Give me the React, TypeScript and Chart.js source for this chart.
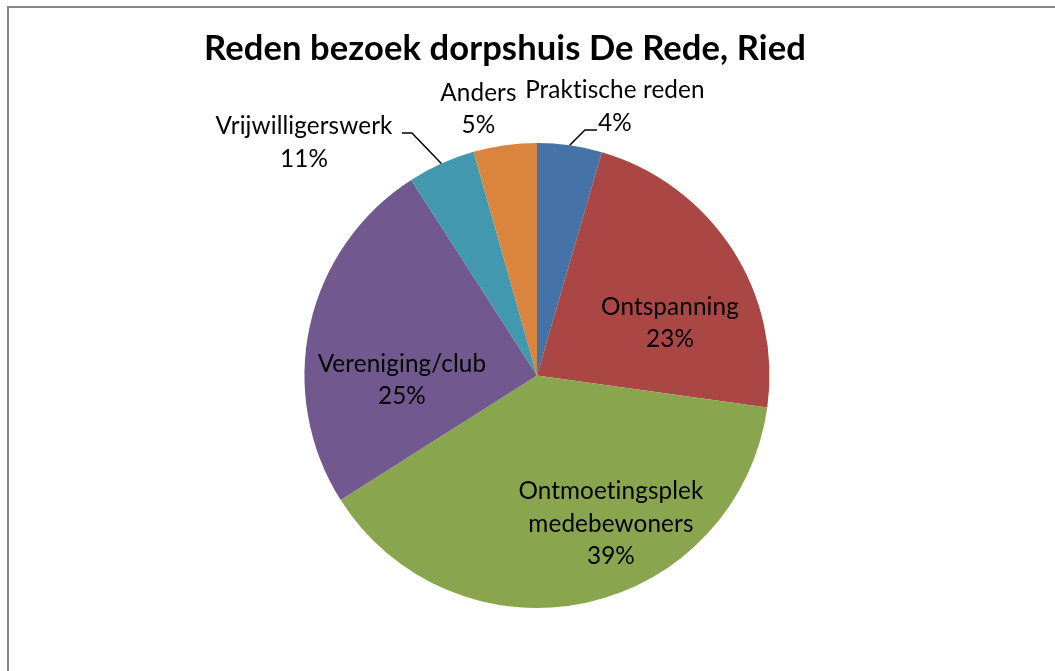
import { useEffect, useRef } from "react";
import { Chart, ArcElement, PieController } from "chart.js";

Chart.register(ArcElement, PieController);

// ---- data ----
const titleText = "Reden bezoek dorpshuis De Rede, Ried";
const categories = [
  "Praktische reden",
  "Ontspanning",
  "Ontmoetingsplek medebewoners",
  "Vereniging/club",
  "Vrijwilligerswerk",
  "Anders",
];
// slice sizes as drawn (share of the circle, %)
const values = [4.5, 22.7, 38.8, 24.9, 4.7, 4.4];
// percentage texts as printed on the chart
const percentLabels = ["4%", "23%", "39%", "25%", "11%", "5%"];
// label text lines (category name broken as in the chart)
const nameLines = [
  ["Praktische reden"],
  ["Ontspanning"],
  ["Ontmoetingsplek", "medebewoners"],
  ["Vereniging/club"],
  ["Vrijwilligerswerk"],
  ["Anders"],
];
const sliceColors = ["#4572A7", "#AA4643", "#89A54E", "#71588F", "#4198AF", "#DB843D"];

// ---- layout (label block centres relative to pie centre, in radius units) ----
const labelOffsets: [number, number][] = [
  [0.335, -1.157],
  [0.572, -0.226],
  [0.318, 0.639],
  [-0.581, 0.019],
  [-1.002, -1.002],
  [-0.252, -1.146],
];
// leader lines: slice index -> elbow and end (radius units)
const leaders: { index: number; elbow: [number, number]; end: [number, number] }[] = [
  { index: 0, elbow: [0.206, -1.056], end: [0.258, -1.056] },
  { index: 4, elbow: [-0.538, -1.043], end: [-0.581, -1.043] },
];

const FONT = "Lato, 'Open Sans', sans-serif";

const decorPlugin = {
  id: "decor",
  beforeDraw(chart: any) {
    const ctx = chart.ctx;
    ctx.save();
    ctx.strokeStyle = "#868686";
    ctx.lineWidth = 2;
    ctx.strokeRect(8, 7, 3000, 3000);
    ctx.restore();
  },
  afterDraw(chart: any) {
    const ctx = chart.ctx as any;
    const meta = chart.getDatasetMeta(0);
    ctx.save();
    ctx.letterSpacing = "0.1px";
    // title
    ctx.font = `bold 100px ${FONT}`;
    const tw = ctx.measureText(titleText).width;
    const titleSize = (100 * 600) / tw;
    ctx.font = `bold ${titleSize}px ${FONT}`;
    ctx.fillStyle = "#000";
    ctx.textAlign = "center";
    ctx.textBaseline = "middle";
    ctx.fillText(titleText, 505, 49);

    // label font fitted to the label width seen in the chart
    ctx.font = `100px ${FONT}`;
    const lw = ctx.measureText("Ontmoetingsplek").width;
    const labelSize = (100 * 184) / lw;
    ctx.font = `${labelSize}px ${FONT}`;
    const lineH = 32.5;

    const first = meta.data[0];
    const cx = first.x;
    const cy = first.y;
    const r = first.outerRadius;

    meta.data.forEach((arc: any, i: number) => {
      const lines = [...nameLines[i], percentLabels[i]];
      const [ox, oy] = labelOffsets[i];
      const bx = cx + ox * r;
      const by = cy + oy * r;
      const top = by - ((lines.length - 1) * lineH) / 2;
      lines.forEach((t, k) => ctx.fillText(t, bx, top + k * lineH));
    });

    ctx.strokeStyle = "#000";
    ctx.lineWidth = 1.5;
    leaders.forEach((l) => {
      const arc = meta.data[l.index];
      const mid = (arc.startAngle + arc.endAngle) / 2;
      const sx = cx + Math.cos(mid) * r;
      const sy = cy + Math.sin(mid) * r;
      ctx.beginPath();
      ctx.moveTo(sx, sy);
      ctx.lineTo(cx + l.elbow[0] * r, cy + l.elbow[1] * r);
      ctx.lineTo(cx + l.end[0] * r, cy + l.end[1] * r);
      ctx.stroke();
    });
    ctx.restore();
  },
};

export default function App() {
  const ref = useRef<HTMLCanvasElement | null>(null);
  useEffect(() => {
    if (!ref.current) return;
    const chart = new Chart(ref.current, {
      type: "pie",
      data: {
        labels: categories,
        datasets: [
          {
            data: values,
            backgroundColor: sliceColors,
            borderWidth: 0,
          },
        ],
      },
      options: {
        responsive: false,
        animation: false,
        events: [],
        layout: { padding: { top: 143, bottom: 63, left: 304.5, right: 285.5 } },
        plugins: { legend: { display: false }, tooltip: { enabled: false } },
      },
      plugins: [decorPlugin],
    });
    return () => chart.destroy();
  }, []);
  return (
    <div style={{ position: "absolute", left: 0, top: 0, width: 1055, height: 671, background: "#fff" }}>
      <canvas ref={ref} width={1055} height={671} style={{ width: 1055, height: 671, display: "block" }} />
    </div>
  );
}
